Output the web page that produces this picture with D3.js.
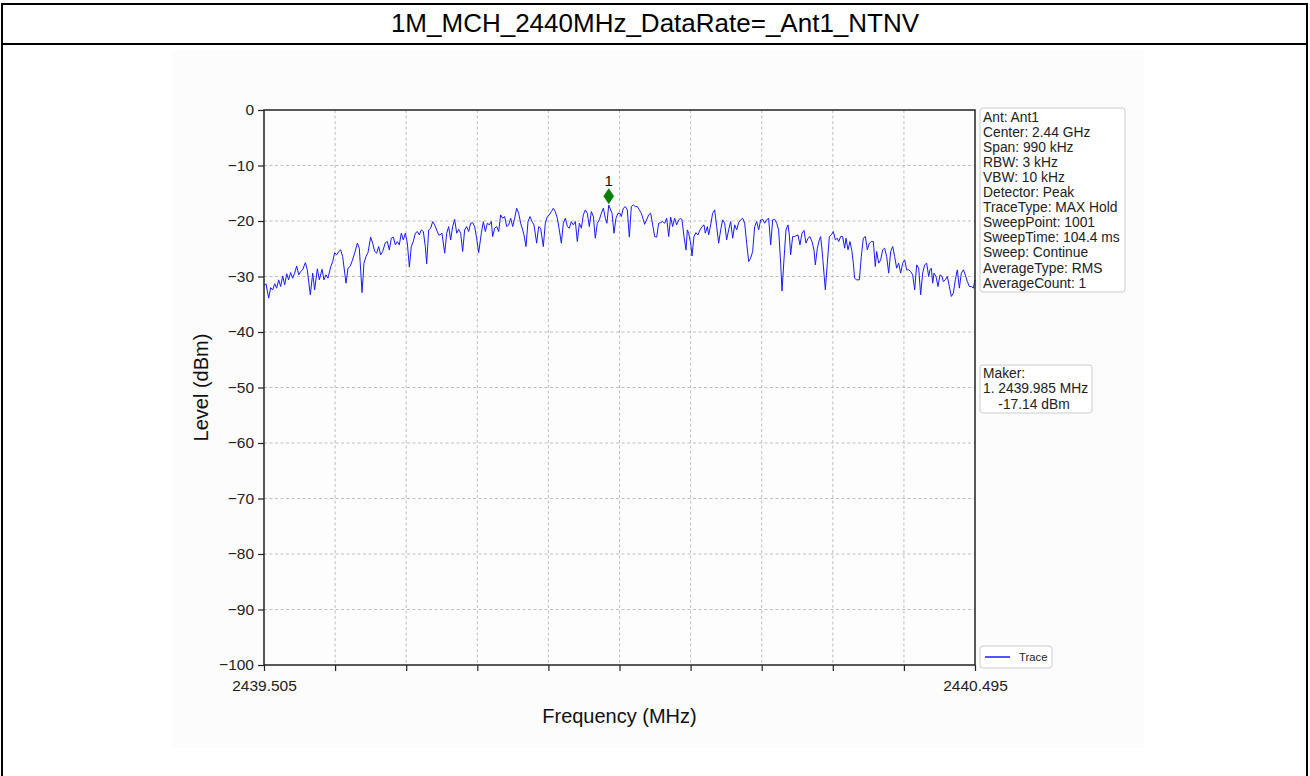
<!DOCTYPE html>
<html>
<head>
<meta charset="utf-8">
<script src="https://cdn.jsdelivr.net/npm/d3@7/dist/d3.min.js"></script>
<style>
  html, body { margin: 0; padding: 0; background: #ffffff; }
  svg { display: block; font-family: "Liberation Sans", Arial, sans-serif; }
</style>
</head>
<body>
<svg id="chart" width="1310" height="776"></svg>
<script>
// ---------------- DATA ----------------
const titleText = "1M_MCH_2440MHz_DataRate=_Ant1_NTNV";
const startFreqMHz = 2439.505;
const stopFreqMHz = 2440.495;

// trace vertices: offset from start frequency (kHz) and level (dBm)
const traceOffsetKHz = [
  0, 2.8, 6.5, 9.3, 12.1, 14.9, 17.6, 20.4, 23.2, 26.0, 28.8, 31.6, 34.3, 37.1, 39.9, 42.7, 45.5, 48.3, 51.1, 53.8,
  57.6, 60.3, 64.5, 67.8, 70.5, 74.3, 77.0, 80.8, 83.5, 86.3, 89.1, 92.8, 95.6, 98.4, 101.2, 104.0, 106.8, 109.5, 114.2, 117.0,
  119.7, 122.5, 126.2, 130.0, 132.7, 136.5, 139.2, 142.0, 144.8, 148.5, 151.3, 154.1, 156.9, 159.7, 162.4, 165.2, 168.9, 171.7, 174.5, 177.3,
  180.1, 182.9, 185.6, 188.4, 191.2, 194.0, 196.8, 199.6, 202.4, 205.1, 207.9, 210.7, 213.5, 216.3, 219.1, 221.9, 224.6, 226.5, 229.3, 232.1,
  234.9, 237.6, 240.4, 243.2, 245.1, 247.8, 251.6, 254.4, 257.1, 259.9, 262.7, 265.5, 268.3, 271.1, 273.8, 276.6, 279.4, 282.2, 285.0, 287.8,
  290.6, 293.3, 296.1, 298.9, 302.6, 305.4, 308.2, 311.0, 313.7, 316.5, 318.4, 321.2, 324.0, 326.8, 329.5, 332.3, 335.1, 337.9, 340.7, 343.5,
  346.3, 349.0, 351.8, 354.6, 357.4, 360.2, 362.0, 364.8, 367.6, 370.4, 373.2, 375.9, 379.7, 382.4, 385.2, 388.9, 391.7, 394.5, 397.3, 400.1,
  402.9, 405.6, 408.4, 411.2, 414.0, 416.8, 419.6, 422.4, 425.1, 427.9, 430.7, 433.5, 436.3, 439.1, 441.9, 444.6, 447.4, 450.2, 453.0, 455.8,
  458.6, 461.3, 464.1, 466.9, 469.7, 472.5, 475.3, 477.5, 480.0, 484.6, 487.3, 490.1, 492.9, 495.7, 497.5, 500.3, 503.1, 505.9, 508.7, 511.5,
  514.3, 517.0, 519.8, 522.6, 525.4, 528.2, 530.0, 532.8, 535.6, 538.4, 541.2, 544.0, 546.8, 549.5, 552.3, 555.1, 557.9, 560.7, 563.5, 566.2,
  569.0, 571.8, 574.6, 577.4, 580.2, 582.0, 584.8, 587.6, 589.5, 591.3, 594.1, 596.0, 598.7, 601.5, 604.3, 607.1, 609.9, 612.7, 614.5, 617.3,
  619.2, 621.9, 624.7, 627.5, 630.3, 633.1, 635.9, 638.6, 641.4, 644.2, 647.0, 649.8, 652.6, 655.4, 658.1, 660.9, 663.7, 666.5, 669.3, 672.1,
  674.9, 677.6, 680.4, 683.2, 686.0, 688.8, 691.6, 694.4, 697.1, 699.9, 702.7, 705.5, 708.3, 711.1, 713.9, 716.6, 719.4, 721.3, 724.0, 726.8,
  729.6, 731.5, 733.3, 736.1, 738.9, 743.5, 746.3, 749.1, 751.9, 754.7, 757.5, 760.2, 763.0, 765.8, 767.7, 770.5, 773.2, 775.1, 777.0, 779.7,
  781.6, 784.4, 787.2, 790.0, 792.7, 795.5, 798.3, 800.2, 803.0, 805.7, 808.5, 810.4, 813.2, 815.9, 818.7, 820.6, 822.4, 825.2, 829.0, 831.7,
  834.5, 837.3, 840.1, 842.9, 845.7, 848.4, 851.2, 853.1, 855.9, 858.7, 861.4, 864.2, 867.0, 869.8, 872.6, 875.4, 878.1, 880.9, 883.7, 886.5,
  889.3, 892.1, 894.9, 897.6, 900.4, 903.2, 906.0, 908.8, 911.6, 914.3, 917.1, 919.9, 922.7, 925.5, 927.3, 929.2, 931.1, 932.9, 935.7, 938.5,
  941.3, 944.1, 945.9, 948.7, 951.5, 954.3, 957.0, 959.8, 962.6, 965.4, 968.2, 971.0, 973.8, 976.5, 979.3, 982.1, 984.9, 987.7, 990.0
];
const traceLevelDBm = [
  -31.7, -31.3, -33.9, -32.0, -32.4, -31.3, -32.1, -30.6, -31.8, -29.9, -31.5, -29.5, -30.6, -29.3, -30.3, -29.4, -28.1, -29.7, -29.1, -28.8,
  -27.5, -28.8, -33.3, -29.4, -32.4, -28.6, -30.6, -28.7, -30.6, -29.7, -30.3, -28.3, -27.3, -25.7, -26.1, -25.5, -25.2, -26.4, -31.2, -28.5,
  -28.2, -27.3, -25.8, -24.0, -24.9, -32.9, -27.6, -26.4, -25.7, -22.9, -24.0, -25.5, -25.8, -24.6, -26.1, -25.5, -23.9, -23.7, -25.2, -23.1,
  -22.9, -24.3, -23.7, -24.3, -22.2, -23.4, -22.2, -24.0, -28.3, -24.6, -23.7, -22.2, -21.9, -22.5, -21.6, -21.9, -24.6, -27.7, -21.6, -21.3,
  -20.1, -20.7, -21.6, -22.5, -22.5, -22.2, -25.8, -22.2, -21.0, -23.4, -21.0, -19.7, -22.2, -21.5, -22.2, -25.5, -21.6, -21.0, -21.9, -20.4,
  -20.3, -21.0, -23.1, -25.7, -22.2, -20.1, -21.9, -20.4, -20.7, -20.1, -22.8, -21.3, -21.0, -21.9, -18.9, -19.5, -19.2, -21.0, -20.7, -19.5,
  -21.0, -19.5, -17.7, -18.6, -20.4, -21.6, -22.5, -24.6, -20.1, -19.2, -20.1, -20.7, -24.0, -21.0, -21.3, -24.6, -20.4, -19.2, -18.9, -18.3,
  -17.7, -18.3, -19.5, -21.6, -24.0, -20.4, -19.5, -21.0, -21.3, -20.1, -20.7, -20.1, -23.7, -20.4, -21.3, -18.9, -18.0, -18.6, -21.0, -18.3,
  -19.2, -23.1, -20.4, -19.8, -18.6, -17.7, -19.5, -20.4, -17.14, -18.6, -22.2, -19.5, -18.6, -18.6, -19.2, -17.7, -17.4, -18.0, -22.9, -17.4,
  -17.1, -17.4, -17.4, -18.0, -18.6, -19.8, -20.6, -19.8, -18.9, -18.6, -20.7, -22.8, -22.9, -20.4, -20.3, -20.1, -20.4, -19.5, -22.8, -19.3,
  -21.0, -19.5, -20.7, -19.8, -19.5, -19.8, -22.8, -25.2, -21.6, -22.2, -24.0, -26.3, -22.8, -22.1, -22.5, -21.6, -21.0, -20.7, -22.2, -21.0,
  -22.5, -20.7, -18.6, -18.0, -21.0, -24.0, -21.6, -19.8, -20.4, -23.4, -21.6, -20.1, -23.1, -20.7, -21.6, -20.3, -19.8, -19.5, -20.4, -24.0,
  -27.3, -26.7, -25.5, -21.0, -20.1, -21.6, -19.8, -19.7, -20.4, -19.8, -19.5, -24.3, -19.8, -19.7, -20.4, -21.6, -27.6, -32.6, -27.0, -21.6,
  -20.7, -22.5, -26.1, -22.8, -22.8, -22.5, -24.3, -22.2, -21.7, -24.0, -23.1, -22.8, -23.7, -25.2, -27.9, -24.9, -23.4, -22.8, -25.2, -29.4,
  -32.4, -27.6, -22.8, -22.5, -21.9, -23.4, -23.1, -23.7, -22.8, -22.8, -24.9, -23.1, -25.2, -23.7, -25.5, -27.6, -30.3, -30.6, -30.6, -26.4,
  -23.1, -22.8, -25.2, -24.0, -23.7, -23.7, -28.2, -25.5, -27.6, -27.0, -25.2, -24.9, -26.4, -29.4, -25.5, -24.6, -26.4, -28.5, -27.6, -29.4,
  -27.6, -27.0, -28.8, -28.8, -29.1, -29.7, -32.4, -27.9, -28.5, -33.3, -29.4, -27.9, -27.6, -30.0, -28.8, -28.5, -31.2, -29.4, -30.0, -31.8,
  -29.7, -30.0, -30.9, -30.6, -30.0, -31.8, -33.6, -33.0, -30.6, -28.8, -32.1, -29.4, -28.8, -29.7, -30.9, -31.8, -31.8, -32.1, -30.6
];

const markerFreqMHz = [2439.985];
const markerLevelDBm = [-17.14];
const markerLabels = ["1"];

const xTickValues = [2439.505, 2439.604, 2439.703, 2439.802, 2439.901, 2440.000, 2440.099, 2440.198, 2440.297, 2440.396, 2440.495];
const xTickLabels = ["2439.505", "", "", "", "", "", "", "", "", "", "2440.495"];
const yTickValues = [0, -10, -20, -30, -40, -50, -60, -70, -80, -90, -100];
const yTickLabels = ["0", "\u221210", "\u221220", "\u221230", "\u221240", "\u221250", "\u221260", "\u221270", "\u221280", "\u221290", "\u2212100"];

const infoLines = [
  "Ant: Ant1", "Center: 2.44 GHz", "Span: 990 kHz", "RBW: 3 kHz", "VBW: 10 kHz", "Detector: Peak",
  "TraceType: MAX Hold", "SweepPoint: 1001", "SweepTime: 104.4 ms", "Sweep: Continue",
  "AverageType: RMS", "AverageCount: 1"
];
const markerInfoLines = ["Maker:", "1. 2439.985 MHz", "    -17.14 dBm"];
const legendLabels = ["Trace"];

// ---------------- DRAW ----------------
const svg = d3.select("#chart");
const W = 1310, H = 776;
const plot = { left: 264, right: 975, top: 110, bottom: 665 };

// outer frame and title
svg.append("rect").attr("x", 0).attr("y", 0).attr("width", W).attr("height", H).attr("fill", "#ffffff");
svg.append("rect").attr("x", 172).attr("y", 50).attr("width", 972).attr("height", 698).attr("fill", "#fcfcfc");
svg.append("line").attr("x1", 1).attr("x2", 1308).attr("y1", 4).attr("y2", 4).attr("stroke", "#000").attr("stroke-width", 2);
svg.append("line").attr("x1", 1).attr("x2", 1308).attr("y1", 44).attr("y2", 44).attr("stroke", "#000").attr("stroke-width", 2);
svg.append("line").attr("x1", 2).attr("x2", 2).attr("y1", 3).attr("y2", H).attr("stroke", "#000").attr("stroke-width", 2);
svg.append("line").attr("x1", 1307).attr("x2", 1307).attr("y1", 3).attr("y2", H).attr("stroke", "#000").attr("stroke-width", 2);
svg.append("text").attr("x", 655).attr("y", 32).attr("text-anchor", "middle")
  .attr("font-size", 26).attr("fill", "#000").text(titleText);

const x = d3.scaleLinear().domain([startFreqMHz, stopFreqMHz]).range([plot.left, plot.right]);
const y = d3.scaleLinear().domain([-100, 0]).range([plot.bottom, plot.top]);

// plot background
svg.append("rect").attr("x", plot.left).attr("y", plot.top)
  .attr("width", plot.right - plot.left).attr("height", plot.bottom - plot.top).attr("fill", "#fdfdfd");

// grid
const grid = svg.append("g");
grid.selectAll("line.gx").data(xTickValues.slice(1, -1)).join("line")
  .attr("x1", d => x(d)).attr("x2", d => x(d)).attr("y1", plot.top).attr("y2", plot.bottom)
  .attr("stroke", "#b0b0b0").attr("stroke-width", 0.8).attr("stroke-dasharray", "3,2.5");
grid.selectAll("line.gy").data(yTickValues.slice(1, -1)).join("line")
  .attr("x1", plot.left).attr("x2", plot.right).attr("y1", d => y(d)).attr("y2", d => y(d))
  .attr("stroke", "#b0b0b0").attr("stroke-width", 0.8).attr("stroke-dasharray", "3,2.5");

// trace
const traceData = traceOffsetKHz.map((o, i) => ({ f: startFreqMHz + o / 1000, v: traceLevelDBm[i] }));
svg.append("path").datum(traceData)
  .attr("fill", "none").attr("stroke", "#1a1aff").attr("stroke-width", 1.0).attr("stroke-linejoin", "round")
  .attr("d", d3.line().x(d => x(d.f)).y(d => y(d.v)));

// axes
const xAxis = d3.axisBottom(x).tickValues(xTickValues).tickSize(6).tickPadding(9)
  .tickFormat((d, i) => xTickLabels[i]);
const gx = svg.append("g").attr("transform", `translate(0,${plot.bottom})`).call(xAxis);
const yAxis = d3.axisLeft(y).tickValues(yTickValues).tickSize(6).tickPadding(4)
  .tickFormat((d, i) => yTickLabels[i]);
const gy = svg.append("g").attr("transform", `translate(${plot.left},0)`).call(yAxis);
[gx, gy].forEach(g => {
  g.select(".domain").remove();
  g.selectAll(".tick line").attr("stroke", "#222").attr("stroke-width", 1.2);
  g.selectAll(".tick text").attr("font-size", 15.5).attr("fill", "#222")
    .attr("font-family", "'Liberation Sans', Arial, sans-serif");
});

// spines
svg.append("rect").attr("x", plot.left).attr("y", plot.top)
  .attr("width", plot.right - plot.left).attr("height", plot.bottom - plot.top)
  .attr("fill", "none").attr("stroke", "#222").attr("stroke-width", 1.5);

// axis labels
svg.append("text").attr("x", (plot.left + plot.right) / 2).attr("y", 723).attr("text-anchor", "middle")
  .attr("font-size", 20).attr("fill", "#111").text("Frequency (MHz)");
svg.append("text").attr("transform", `translate(208,${(plot.top + plot.bottom) / 2}) rotate(-90)`)
  .attr("text-anchor", "middle").attr("font-size", 20).attr("fill", "#111").text("Level (dBm)");

// marker
const mk = svg.append("g");
markerFreqMHz.forEach((f, i) => {
  const mx = x(f), my = y(markerLevelDBm[i]) - 9;
  mk.append("path").attr("d", `M${mx},${my - 7.5} L${mx + 5},${my} L${mx},${my + 7.5} L${mx - 5},${my} Z`)
    .attr("fill", "#007f00").attr("stroke", "#006400").attr("stroke-width", 0.5);
  mk.append("text").attr("x", mx).attr("y", my - 10).attr("text-anchor", "middle")
    .attr("font-size", 15).attr("fill", "#111").text(markerLabels[i]);
});

// info box
function textBox(lines, bx, by, bw, bh, firstBaseline, lineStep, fontSize, tx) {
  const g = svg.append("g");
  g.append("rect").attr("x", bx).attr("y", by).attr("width", bw).attr("height", bh)
    .attr("rx", 3).attr("fill", "#ffffff").attr("stroke", "#cccccc").attr("stroke-width", 1);
  g.selectAll("text").data(lines).join("text")
    .attr("x", tx).attr("y", (d, i) => firstBaseline + i * lineStep)
    .attr("font-size", fontSize).attr("fill", "#222").style("white-space", "pre")
    .text(d => d);
  return g;
}
textBox(infoLines, 980, 108, 145, 184, 121.5, 15.1, 13.8, 983);
textBox(markerInfoLines, 980, 365, 112, 48, 378, 15.3, 13.8, 983);

// legend
const lg = svg.append("g");
lg.append("rect").attr("x", 980).attr("y", 646).attr("width", 72).attr("height", 22)
  .attr("rx", 3).attr("fill", "#ffffff").attr("stroke", "#cccccc").attr("stroke-width", 1);
lg.append("line").attr("x1", 985).attr("x2", 1010).attr("y1", 657).attr("y2", 657)
  .attr("stroke", "#1a1aff").attr("stroke-width", 1.5);
lg.append("text").attr("x", 1019).attr("y", 661).attr("font-size", 11.3).attr("fill", "#222").text(legendLabels[0]);
</script>
</body>
</html>
